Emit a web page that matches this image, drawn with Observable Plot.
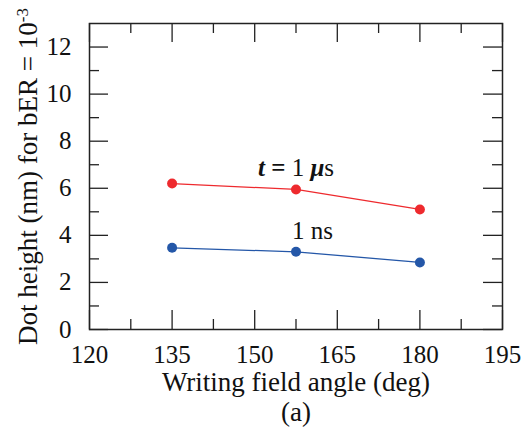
<!DOCTYPE html>
<html>
<head>
<meta charset="utf-8">
<script src="https://cdn.jsdelivr.net/npm/d3@7"></script>
<script src="https://cdn.jsdelivr.net/npm/@observablehq/plot@0.6"></script>
<style>
  html, body { margin: 0; padding: 0; background: #fff; }
  #chart svg { display: block; }
</style>
</head>
<body>
<div id="chart"></div>
<script>
// Writing field angle (deg) for each simulated point
const angles = [135, 157.5, 180];
// Dot height (nm) at bER = 1e-3 for the two pulse durations
const height1us = [6.2, 5.95, 5.1];
const height1ns = [3.47, 3.3, 2.85];
const seriesNames = ["1 us", "1 ns"];
const seriesColors = ["#ee2a2e", "#2457a8"];

const xTicks = [120, 135, 150, 165, 180, 195];
const xMinor = [127.5, 142.5, 157.5, 172.5, 187.5];
const yTicks = [0, 2, 4, 6, 8, 10, 12];
const yMinor = [1, 3, 5, 7, 9, 11];

const xDomain = [120, 195];
const yDomain = [0, 13];

const xTitle = "Writing field angle (deg)";
const yTitle = "Dot height (nm) for bER = 10";
const yTitleExp = "-3";
const panelTag = "(a)";

const rows = [
  ...angles.map((a, i) => ({angle: a, h: height1us[i], s: seriesNames[0]})),
  ...angles.map((a, i) => ({angle: a, h: height1ns[i], s: seriesNames[1]}))
];

const W = 528, H = 433;
const mL = 89, mR = 26, mT = 23, mB = 104;
const plotW = W - mL - mR, plotH = H - mT - mB;
// inward tick lengths in data units (major 19px, minor 10px)
const xu = (xDomain[1] - xDomain[0]) / plotW;
const yu = (yDomain[1] - yDomain[0]) / plotH;
const tkX = px => px * xu, tkY = px => px * yu;

const serif = "Liberation Serif, Times New Roman, serif";
const tickStroke = {stroke: "#222", strokeWidth: 1.3};

const chart = Plot.plot({
  width: W, height: H,
  marginLeft: mL, marginRight: mR, marginTop: mT, marginBottom: mB,
  x: {domain: xDomain, axis: null},
  y: {domain: yDomain, axis: null},
  color: {domain: seriesNames, range: seriesColors},
  marks: [
    Plot.frame({stroke: "#222", strokeWidth: 1.5}),
    // bottom/top ticks
    Plot.ruleX(xTicks, {y1: 0, y2: tkY(19), ...tickStroke}),
    Plot.ruleX(xMinor, {y1: 0, y2: tkY(10), ...tickStroke}),
    Plot.ruleX(xTicks, {y1: 13, y2: 13 - tkY(19), ...tickStroke}),
    Plot.ruleX(xMinor, {y1: 13, y2: 13 - tkY(10), ...tickStroke}),
    // left/right ticks
    Plot.ruleY(yTicks, {x1: 120, x2: 120 + tkX(19), ...tickStroke}),
    Plot.ruleY(yMinor, {x1: 120, x2: 120 + tkX(10), ...tickStroke}),
    Plot.ruleY(yTicks, {x1: 195, x2: 195 - tkX(19), ...tickStroke}),
    Plot.ruleY(yMinor, {x1: 195, x2: 195 - tkX(10), ...tickStroke}),
    // tick labels
    Plot.text(xTicks, {x: d => d, y: 0, text: d => String(d), dy: 25, lineAnchor: "middle",
      fontSize: 25, fontFamily: serif, fill: "#111"}),
    Plot.text(yTicks, {x: 120, y: d => d, text: d => String(d), dx: -18, textAnchor: "end",
      fontSize: 25, fontFamily: serif, fill: "#111"}),
    // axis titles and panel tag
    Plot.text([xTitle], {frameAnchor: "bottom", text: d => d, dy: 61, lineAnchor: "bottom",
      fontSize: 27, fontFamily: serif, fill: "#111"}),
    Plot.text([yTitle], {frameAnchor: "left", text: d => d, dx: -61, rotate: -90,
      textAnchor: "middle", lineAnchor: "middle",
      fontSize: 27, fontFamily: serif, fill: "#111", className: "ytitle"}),
    Plot.text([panelTag], {frameAnchor: "bottom", text: d => d, dy: 91, lineAnchor: "bottom",
      fontSize: 27, fontFamily: serif, fill: "#111"}),
    // data
    Plot.line(rows, {x: "angle", y: "h", z: "s", stroke: "s", strokeWidth: 1.3}),
    Plot.dot(rows, {x: "angle", y: "h", fill: "s", r: 5}),
    Plot.text([{x: 157.5, y: height1us[1], t: "t = 1 μs"}], {x: "x", y: "y", text: "t", dy: -21,
      fontSize: 25, fontFamily: serif, fill: "#111", className: "lab-us"}),
    Plot.text([{x: 160.5, y: height1ns[1], t: "1 ns"}], {x: "x", y: "y", text: "t", dy: -21,
      fontSize: 25, fontFamily: serif, fill: "#111"})
  ]
});

document.getElementById("chart").appendChild(chart);

const svg = d3.select(chart);
// superscript exponent on the y title
svg.selectAll(".ytitle text").each(function() {
  d3.select(this).append("tspan").attr("dy", "-0.55em").attr("font-size", 17).text(yTitleExp);
});
// mixed-style annotation: bold italic t and mu
svg.selectAll(".lab-us text").each(function() {
  const t = d3.select(this);
  t.text("");
  const bi = s => t.append("tspan").attr("font-style", "italic").attr("font-weight", "bold").text(s);
  bi("t");
  t.append("tspan").attr("font-weight", "bold").text(" = ");
  t.append("tspan").text("1 ");
  bi("μ");
  t.append("tspan").text("s");
});
</script>
</body>
</html>
